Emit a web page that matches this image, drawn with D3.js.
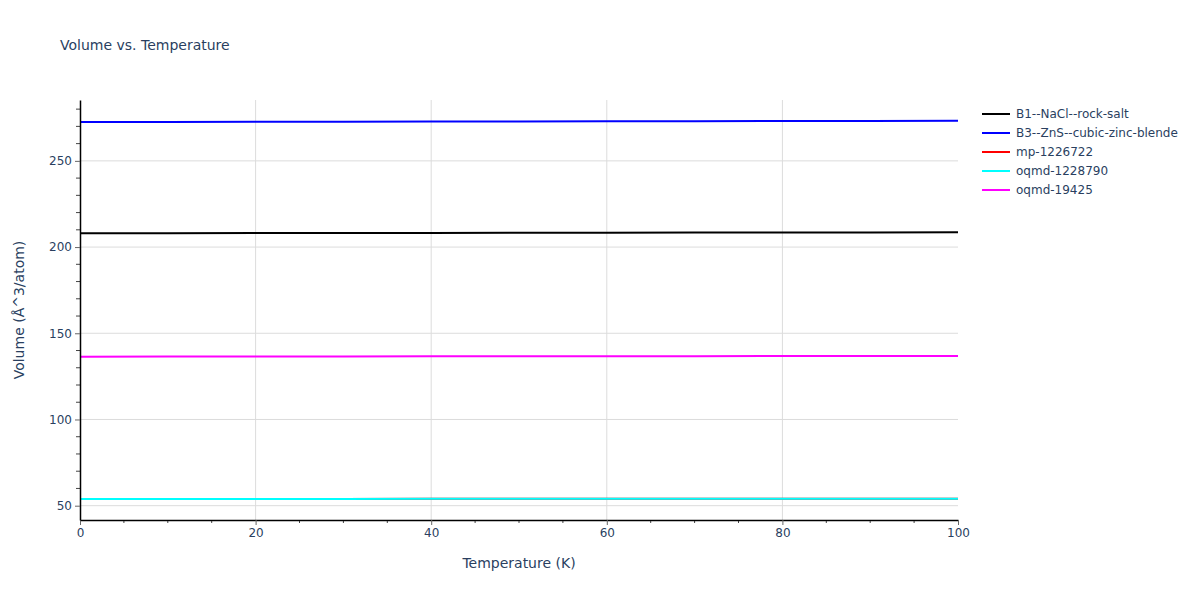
<!DOCTYPE html>
<html>
<head>
<meta charset="utf-8">
<script src="https://cdn.jsdelivr.net/npm/d3@7"></script>
<style>
body{margin:0;background:#fff;}
text{font-family:"DejaVu Sans",verdana,arial,sans-serif;}
</style>
</head>
<body>
<svg id="chart" width="1200" height="600"></svg>
<script>
const temperatures = [0, 10, 20, 30, 40, 50, 60, 70, 80, 90, 100];
const seriesNames = ["B1--NaCl--rock-salt", "B3--ZnS--cubic-zinc-blende", "mp-1226722", "oqmd-1228790", "oqmd-19425"];
const seriesColors = ["#000000", "#0000ff", "#ff0000", "#00ffff", "#ff00ff"];
const nacl = [207.97, 208.03, 208.09, 208.15, 208.21, 208.27, 208.33, 208.39, 208.45, 208.5, 208.55];
const zns = [272.5, 272.57, 272.65, 272.72, 272.8, 272.88, 272.95, 273.03, 273.11, 273.18, 273.26];
const mp1226722 = [53.9, 53.92, 53.93, 53.95, 53.97, 53.98, 54.0, 54.02, 54.03, 54.05, 54.07];
const oqmd1228790 = [53.9, 53.92, 53.93, 53.95, 53.97, 53.98, 54.0, 54.02, 54.03, 54.05, 54.07];
const oqmd19425 = [136.45, 136.49, 136.53, 136.57, 136.61, 136.65, 136.7, 136.74, 136.78, 136.82, 136.86];
const seriesValues = [nacl, zns, mp1226722, oqmd1228790, oqmd19425];
const xTicks = [0, 20, 40, 60, 80, 100];
const yTicks = [50, 100, 150, 200, 250];
const xMinorTicks = d3.range(0, 101, 5);
const yMinorTicks = d3.range(50, 290, 10);
const title = "Volume vs. Temperature";
const xTitle = "Temperature (K)";
const yTitle = "Volume (Å^3/atom)";

const svg = d3.select("#chart");
const pL = 80, pR = 958, pT = 100, pB = 520;
const x = d3.scaleLinear().domain([0, 100]).range([pL, pR]);
const y = d3.scaleLinear().domain([41.7, 285.3]).range([pB, pT]);
const txtColor = "#2a3f5f";
const fontFam = '"DejaVu Sans",verdana,arial,sans-serif';

// grid
svg.append("g").selectAll("line").data(xTicks.filter(d => d > 0 && d < 100)).join("line")
  .attr("x1", d => x(d)).attr("x2", d => x(d)).attr("y1", pT).attr("y2", pB)
  .attr("stroke", "#dcdcdc").attr("stroke-width", 1);
svg.append("g").selectAll("line").data(yTicks).join("line")
  .attr("x1", pL).attr("x2", pR).attr("y1", d => y(d)).attr("y2", d => y(d))
  .attr("stroke", "#dcdcdc").attr("stroke-width", 1);

// minor ticks
svg.append("g").selectAll("line").data(xMinorTicks.filter(d => !xTicks.includes(d))).join("line")
  .attr("x1", d => x(d)).attr("x2", d => x(d)).attr("y1", pB).attr("y2", pB + 3)
  .attr("stroke", "#444");
svg.append("g").selectAll("line").data(yMinorTicks.filter(d => !yTicks.includes(d))).join("line")
  .attr("x1", pL - 4).attr("x2", pL).attr("y1", d => y(d)).attr("y2", d => y(d))
  .attr("stroke", "#444");

// lines
svg.append("clipPath").attr("id", "clip").append("rect")
  .attr("x", pL).attr("y", pT).attr("width", pR - pL).attr("height", pB - pT);
const line = d3.line().x((d, i) => x(temperatures[i])).y(d => y(d));
const order = [0, 1, 2, 3, 4];
svg.append("g").attr("clip-path", "url(#clip)").selectAll("path").data(order).join("path")
  .attr("d", i => line(seriesValues[i]))
  .attr("fill", "none").attr("stroke", i => seriesColors[i]).attr("stroke-width", 2);

// axes
const xAxis = svg.append("g").attr("transform", `translate(0,${pB})`)
  .call(d3.axisBottom(x).tickValues(xTicks).tickSize(5).tickPadding(3).tickSizeOuter(0));
const yAxis = svg.append("g").attr("transform", `translate(${pL},0)`)
  .call(d3.axisLeft(y).tickValues(yTicks).tickSize(5).tickPadding(3).tickSizeOuter(0));
[xAxis, yAxis].forEach(a => {
  a.select(".domain").attr("stroke", "#000").attr("stroke-width", 1.5);
  a.selectAll(".tick line").attr("stroke", "#666");
  a.selectAll(".tick text").attr("fill", txtColor).attr("font-size", 12)
    .style("font-family", fontFam);
});

// titles
svg.append("text").attr("x", 60).attr("y", 50).text(title)
  .attr("fill", txtColor).attr("font-size", 14);
svg.append("text").attr("x", (pL + pR) / 2).attr("y", 568).attr("text-anchor", "middle")
  .text(xTitle).attr("fill", txtColor).attr("font-size", 14);
svg.append("text").attr("transform", `translate(24,${(pT + pB) / 2}) rotate(-90)`)
  .attr("text-anchor", "middle").text(yTitle).attr("fill", txtColor).attr("font-size", 14);

// legend
const lg = svg.append("g").attr("transform", "translate(982,114)");
const items = lg.selectAll("g").data(seriesNames).join("g")
  .attr("transform", (d, i) => `translate(0,${i * 19})`);
items.append("line").attr("x1", 0).attr("x2", 28).attr("y1", 0).attr("y2", 0)
  .attr("stroke", (d, i) => seriesColors[i]).attr("stroke-width", 2);
items.append("text").attr("x", 34).attr("y", 4).text(d => d)
  .attr("fill", txtColor).attr("font-size", 12);
</script>
</body>
</html>
